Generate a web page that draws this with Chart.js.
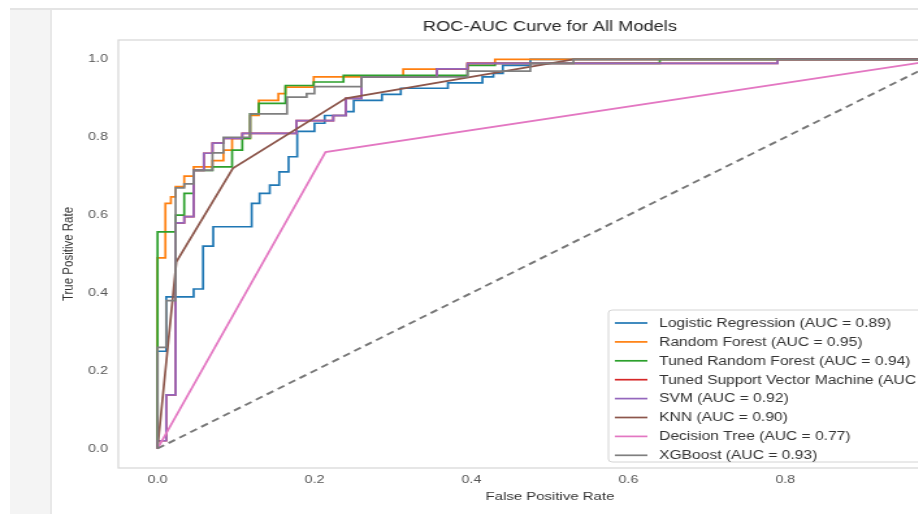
<!DOCTYPE html>
<html>
<head>
<meta charset="utf-8">
<script src="https://cdn.jsdelivr.net/npm/chart.js@4.4.1/dist/chart.umd.min.js"></script>
<style>
  html, body { margin: 0; padding: 0; width: 918px; height: 514px; overflow: hidden; background: #fff; }
  .strip { position: absolute; left: 10px; top: 10px; width: 40px; height: 504px; background: #f4f4f4; border-right: 2px solid #e8e8e8; }
  .topline { position: absolute; left: 10px; top: 8px; width: 908px; height: 2px; background: #e4e4e4; }
  /* the reference screenshot is stretched sideways, so the chart is drawn narrow and widened */
  #wrap { position: absolute; left: 0; top: 0; width: 770px; height: 514px; transform: scaleX(1.3); transform-origin: 0 0; }
</style>
</head>
<body>
<div class="strip"></div>
<div class="topline"></div>
<div id="wrap"><canvas id="roc"></canvas></div>
<script>
(function () {
  "use strict";

  const X_TICKS = [0, 0.2, 0.4, 0.6, 0.8, 1.0];
  const Y_TICKS = [0, 0.2, 0.4, 0.6, 0.8, 1.0];

  const MODEL_LABELS = [
    "Logistic Regression (AUC = 0.89)",
    "Random Forest (AUC = 0.95)",
    "Tuned Random Forest (AUC = 0.94)",
    "Tuned Support Vector Machine (AUC = 0.92)",
    "SVM (AUC = 0.92)",
    "KNN (AUC = 0.90)",
    "Decision Tree (AUC = 0.77)",
    "XGBoost (AUC = 0.93)"
  ];
  const MODEL_COLORS = ["#1f77b4", "#ff7f0e", "#2ca02c", "#d62728", "#9467bd", "#8c564b", "#e377c2", "#7f7f7f"];

  // staircase curves: at the previous fpr the curve rises to tpr, then runs to this fpr
  const LR_FPR  = [0, 0.011, 0.046, 0.058, 0.071, 0.12, 0.13, 0.143, 0.155, 0.167, 0.178, 0.2, 0.213, 0.24, 0.25, 0.286, 0.31, 0.37, 0.414, 0.428, 0.44, 0.475, 1];
  const LR_TPR  = [0, 0.25, 0.39, 0.41, 0.52, 0.57, 0.63, 0.656, 0.677, 0.711, 0.75, 0.815, 0.836, 0.856, 0.866, 0.895, 0.91, 0.926, 0.94, 0.955, 0.964, 0.985, 1];

  const RF_FPR  = [0, 0.01, 0.017, 0.023, 0.034, 0.046, 0.07, 0.084, 0.095, 0.118, 0.129, 0.154, 0.163, 0.199, 0.313, 0.395, 0.43, 1];
  const RF_TPR  = [0, 0.49, 0.63, 0.647, 0.673, 0.70, 0.724, 0.74, 0.767, 0.797, 0.856, 0.895, 0.912, 0.929, 0.955, 0.975, 0.99, 1];

  const TRF_FPR = [0, 0.023, 0.034, 0.046, 0.07, 0.095, 0.108, 0.118, 0.129, 0.163, 0.199, 0.237, 0.395, 0.43, 0.64, 1];
  const TRF_TPR = [0, 0.557, 0.60, 0.656, 0.715, 0.724, 0.767, 0.797, 0.86, 0.887, 0.933, 0.942, 0.959, 0.985, 0.99, 1];

  const SVM_FPR = [0, 0.011, 0.023, 0.034, 0.046, 0.059, 0.07, 0.084, 0.108, 0.177, 0.224, 0.24, 0.26, 0.356, 0.395, 0.79, 1];
  const SVM_TPR = [0, 0.02, 0.138, 0.58, 0.596, 0.715, 0.759, 0.785, 0.797, 0.81, 0.843, 0.856, 0.9, 0.955, 0.976, 0.99, 1];

  const XGB_FPR = [0, 0.011, 0.023, 0.034, 0.046, 0.07, 0.084, 0.118, 0.129, 0.165, 0.19, 0.2, 0.26, 0.395, 0.475, 0.53, 1];
  const XGB_TPR = [0, 0.26, 0.38, 0.67, 0.68, 0.715, 0.76, 0.80, 0.86, 0.86, 0.903, 0.912, 0.93, 0.955, 0.97, 0.99, 1];

  // few thresholds, straight segments
  const KNN_FPR = [0, 0.024, 0.096, 0.24, 0.53, 1];
  const KNN_TPR = [0, 0.48, 0.72, 0.90, 1, 1];
  const DT_FPR  = [0, 0.214, 1];
  const DT_TPR  = [0, 0.762, 1];

  const CHANCE_X = [0, 1];
  const CHANCE_Y = [0, 1];

  const FONT = "'Liberation Sans', Arial, sans-serif";

  function pts(xs, ys) {
    return xs.map((x, i) => ({ x: x, y: ys[i] }));
  }

  const curves = [
    [LR_FPR, LR_TPR, "after"],
    [RF_FPR, RF_TPR, "after"],
    [TRF_FPR, TRF_TPR, "after"],
    [SVM_FPR, SVM_TPR, "after"],   // tuned SVM, hidden under SVM
    [SVM_FPR, SVM_TPR, "after"],
    [KNN_FPR, KNN_TPR, false],
    [DT_FPR, DT_TPR, false],
    [XGB_FPR, XGB_TPR, "after"]
  ];

  const datasets = curves.map((c, i) => ({
    label: MODEL_LABELS[i],
    data: pts(c[0], c[1]),
    stepped: c[2],
    borderColor: MODEL_COLORS[i],
    borderWidth: 1.7,
    pointRadius: 0,
    fill: false,
    order: curves.length - i   // later models on top, like matplotlib
  }));

  datasets.push({
    label: "chance",
    data: pts(CHANCE_X, CHANCE_Y),
    borderColor: "#777777",
    borderWidth: 1.9,
    borderDash: [6, 4],
    pointRadius: 0,
    fill: false,
    order: -1
  });

  const framePlugin = {
    id: "frame",
    beforeDatasetsDraw(chart) {
      const a = chart.chartArea, ctx = chart.ctx;
      ctx.save();
      ctx.strokeStyle = "#d6d6d6";
      ctx.lineWidth = 1.2;
      ctx.strokeRect(a.left, a.top, a.right - a.left, a.bottom - a.top);
      ctx.restore();
    },
    afterDraw(chart) {
      const a = chart.chartArea, ctx = chart.ctx;
      ctx.save();
      ctx.fillStyle = "#262626";
      ctx.font = "14px " + FONT;
      ctx.textAlign = "center";
      ctx.textBaseline = "middle";
      ctx.fillText("ROC-AUC Curve for All Models", (a.left + a.right) / 2, 27);
      ctx.restore();
    }
  };

  // legend box in the lower right, inside the plot
  const legendPlugin = {
    id: "boxLegend",
    afterDraw(chart) {
      const a = chart.chartArea, ctx = chart.ctx;
      const left = 468, top = 310, right = a.right - 5, bottom = 462;
      ctx.save();
      ctx.beginPath();
      ctx.roundRect(left, top, right - left, bottom - top, 3);
      ctx.fillStyle = "rgba(255,255,255,0.85)";
      ctx.fill();
      ctx.strokeStyle = "#d4d4d4";
      ctx.lineWidth = 1;
      ctx.stroke();
      ctx.font = "12px " + FONT;
      ctx.textBaseline = "middle";
      ctx.textAlign = "left";
      MODEL_LABELS.forEach((lbl, i) => {
        const y = 323 + i * 18.9;
        ctx.strokeStyle = MODEL_COLORS[i];
        ctx.lineWidth = 1.7;
        ctx.beginPath();
        ctx.moveTo(473, y);
        ctx.lineTo(498, y);
        ctx.stroke();
        ctx.fillStyle = "#333333";
        ctx.fillText(lbl, 507, y + 0.5);
      });
      ctx.restore();
    }
  };

  new Chart(document.getElementById("roc"), {
    type: "line",
    data: { datasets },
    options: {
      responsive: true,
      maintainAspectRatio: false,
      animation: false,
      layout: { padding: { top: 40, right: 15, left: 0, bottom: 0 } },
      plugins: {
        legend: { display: false },
        tooltip: { enabled: false },
        title: { display: false }
      },
      scales: {
        x: {
          type: "linear",
          min: -0.05,
          max: 1.05,
          afterBuildTicks: s => { s.ticks = X_TICKS.map(v => ({ value: v })); },
          afterFit: s => { s.height = 46; },
          grid: { display: false, drawTicks: false },
          border: { display: false },
          ticks: { padding: 5, color: "#555555", font: { family: FONT, size: 11 }, callback: v => Number(v).toFixed(1) },
          title: { display: true, text: "False Positive Rate", color: "#333333", font: { family: FONT, size: 11.5 }, padding: { top: 0, bottom: 10 } }
        },
        y: {
          type: "linear",
          min: -0.05,
          max: 1.05,
          afterBuildTicks: s => { s.ticks = Y_TICKS.map(v => ({ value: v })); },
          afterFit: s => { s.width = 91; },
          grid: { display: false, drawTicks: false },
          border: { display: false },
          ticks: { padding: 8, color: "#555555", font: { family: FONT, size: 11 }, callback: v => Number(v).toFixed(1) },
          title: { display: true, text: "True Positive Rate", color: "#333333", font: { family: FONT, size: 11.5 }, padding: { top: 46, bottom: 0 } }
        }
      }
    },
    plugins: [framePlugin, legendPlugin]
  });
})();
</script>
</body>
</html>
